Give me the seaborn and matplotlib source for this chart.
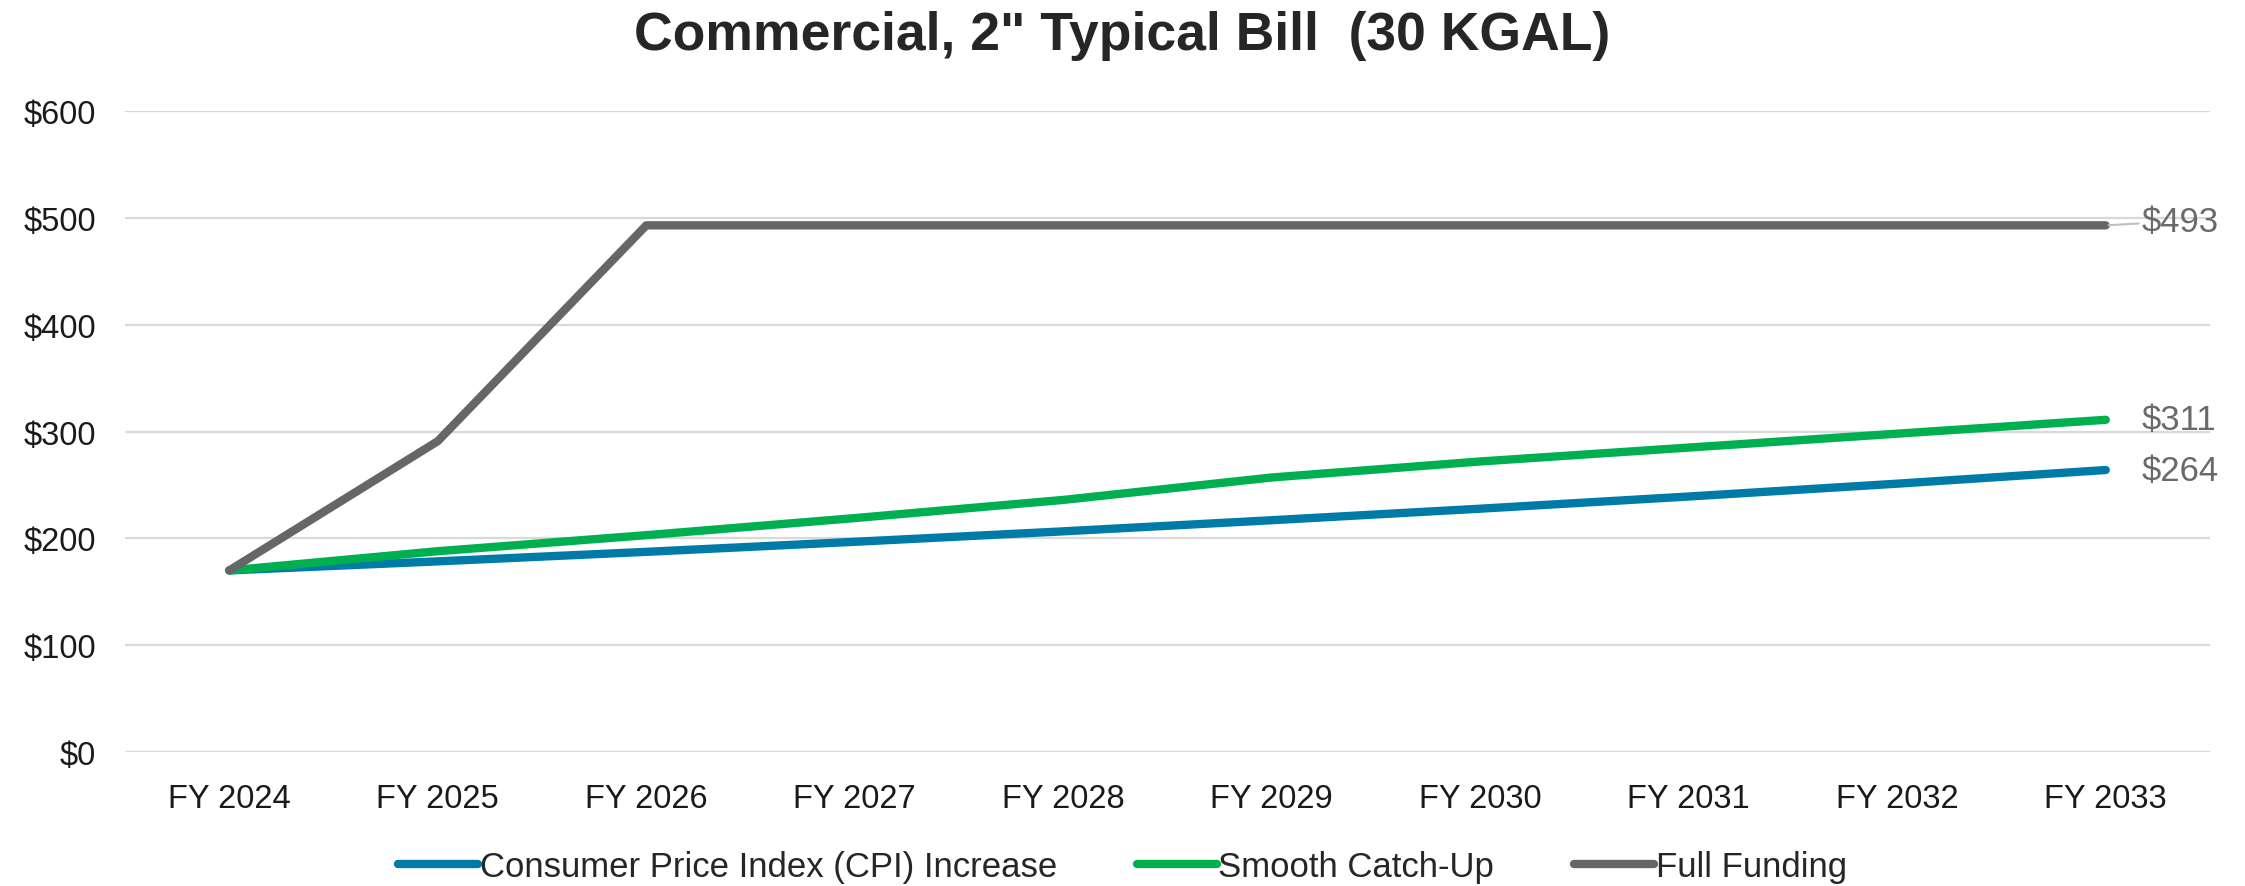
import pandas as pd
import numpy as np
import matplotlib
matplotlib.use("Agg")
import matplotlib.pyplot as plt
from matplotlib.ticker import FuncFormatter
import seaborn as sns

# Dados do gráfico
anos = ["FY 2024", "FY 2025", "FY 2026", "FY 2027", "FY 2028",
        "FY 2029", "FY 2030", "FY 2031", "FY 2032", "FY 2033"]
cpi = [170, 178.5, 187.4, 196.8, 206.6, 217.0, 227.8, 239.2, 251.2, 264]
smooth = [170, 188, 203, 219, 236, 257, 272, 285, 298, 311]
full_funding = [170, 291, 493, 493, 493, 493, 493, 493, 493, 493]

series_names = ["Consumer Price Index (CPI) Increase", "Smooth Catch-Up", "Full Funding"]
cores = ["#007BA7", "#00B050", "#666666"]
end_labels = ["$264", "$311", "$493"]

dados = pd.DataFrame({
    "idx": range(len(anos)),
    series_names[0]: cpi,
    series_names[1]: smooth,
    series_names[2]: full_funding,
})
longo = dados.melt(id_vars="idx", var_name="serie", value_name="valor")

sns.set_style("white")
plt.rcParams["font.family"] = ["Liberation Sans", "DejaVu Sans"]
plt.rcParams["lines.solid_capstyle"] = "round"

fig, ax = plt.subplots(figsize=(22.45, 8.87), dpi=100)
fig.subplots_adjust(left=0.0557, right=0.9844, top=0.8737, bottom=0.151)

sns.lineplot(data=longo, x="idx", y="valor", hue="serie", hue_order=series_names,
             palette=cores, linewidth=6.0, ax=ax)

ax.set_xlim(-0.5, len(anos) - 0.5)
ax.set_ylim(0, 600)
ax.set_yticks(range(0, 601, 100))
ax.yaxis.set_major_formatter(FuncFormatter(lambda v, p: f"${v:.0f}"))
ax.set_xticks(range(len(anos)))
ax.set_xticklabels(anos)
ax.set_xlabel("")
ax.set_ylabel("")
ax.tick_params(axis="both", length=0, labelsize=23.5, colors="#1a1a1a")
ax.tick_params(axis="x", pad=22)
ax.tick_params(axis="y", pad=21)
ax.yaxis.grid(True, color="#d9d9d9", linewidth=1.6)
ax.set_axisbelow(True)
for s in ax.spines.values():
    s.set_visible(False)

# Rótulos no fim das linhas
finais = [cpi[-1], smooth[-1], full_funding[-1]]
for val, txt in zip(finais, end_labels):
    if txt == "$493":
        ax.annotate(txt, xy=(len(anos) - 1, val), xytext=(26, 3), textcoords="offset points",
                    fontsize=25, color="#6a6a6a", va="center", ha="left",
                    arrowprops=dict(arrowstyle="-", color="#bfbfbf", lw=1.5,
                                    shrinkA=0, shrinkB=2))
    else:
        ax.annotate(txt, xy=(len(anos) - 1, val), xytext=(26, 0), textcoords="offset points",
                    fontsize=25, color="#6a6a6a", va="center", ha="left")

fig.suptitle('Commercial, 2" Typical Bill  (30 KGAL)', fontsize=38.5, fontweight="bold",
             x=0.5, y=0.988, va="top")

handles, labels = ax.get_legend_handles_labels()
ax.legend_.remove()
for h in handles:
    h.set_linewidth(6.0)
fig.legend(handles, labels, loc="center", bbox_to_anchor=(0.5, 0.022), ncol=3,
           frameon=False, fontsize=25, handlelength=2.3, handletextpad=0.05,
           columnspacing=2.3)

plt.savefig("out.png", dpi=100)
